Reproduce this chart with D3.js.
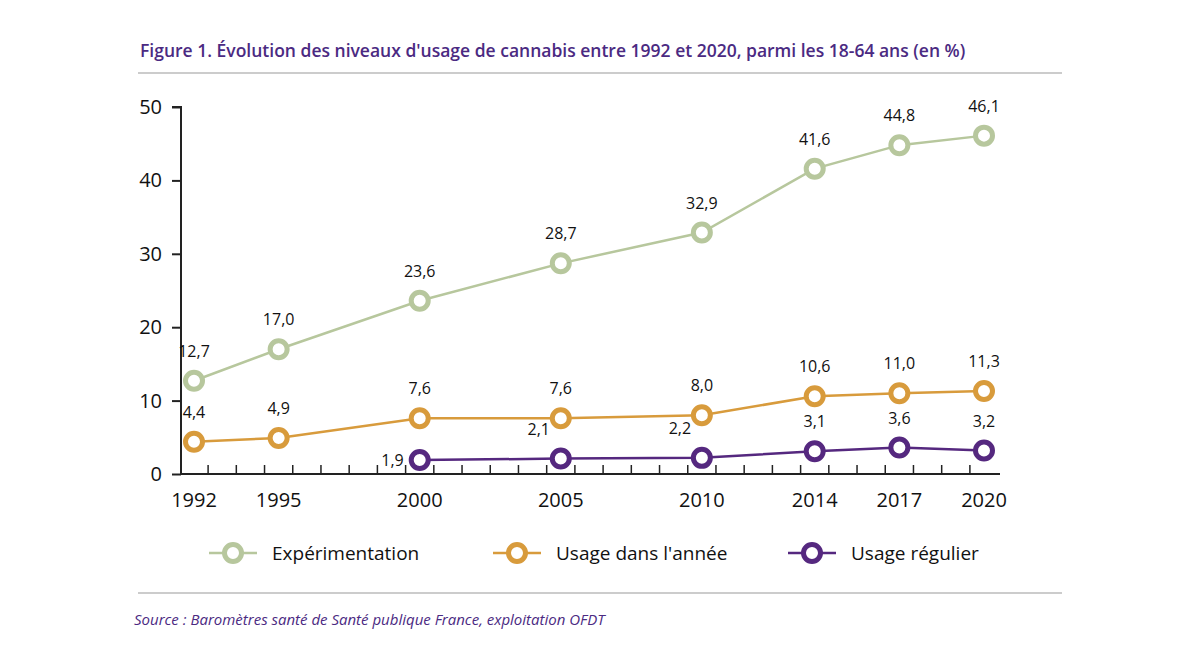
<!DOCTYPE html>
<html><head><meta charset="utf-8">
<script src="https://cdn.jsdelivr.net/npm/d3@7"></script>
<style>body{margin:0;background:#fff;}svg{font-family:"Open Sans",sans-serif;}</style>
</head><body><svg id="c" width="1200" height="650"></svg>
<script>
const years=[1992,1995,2000,2005,2010,2014,2017,2020];
const experimentation=[12.7,17.0,23.6,28.7,32.9,41.6,44.8,46.1];
const usageAnnee=[4.4,4.9,7.6,7.6,8.0,10.6,11.0,11.3];
const usageRegulierYears=[2000,2005,2010,2014,2017,2020];
const usageRegulier=[1.9,2.1,2.2,3.1,3.6,3.2];
const yTicks=[0,10,20,30,40,50];
const seriesNames=["Expérimentation","Usage dans l'année","Usage régulier"];
const colors=["#b7c79d","#d89b3c","#55287f"];

const svg=d3.select("#c");
const x=d3.scaleLinear().domain([1992,2020]).range([194,984]);
const y=d3.scaleLinear().domain([0,50]).range([474,107]);
const fmt=v=>v.toFixed(1).replace(".",",");

svg.append("text").attr("x",140).attr("y",57).attr("fill","#4b2a82").attr("font-size",17.5).attr("font-weight",600)
 .text("Figure 1. Évolution des niveaux d'usage de cannabis entre 1992 et 2020, parmi les 18-64 ans (en %)");
svg.append("line").attr("x1",138).attr("x2",1062).attr("y1",73).attr("y2",73).attr("stroke","#999");
svg.append("line").attr("x1",138).attr("x2",1062).attr("y1",593).attr("y2",593).attr("stroke","#999");
svg.append("text").attr("x",134).attr("y",625).attr("fill","#4b2a82").attr("font-size",15).attr("font-style","italic")
 .text("Source : Baromètres santé de Santé publique France, exploitation OFDT");

const ya=svg.append("g").attr("transform","translate(181,0)").call(d3.axisLeft(y).tickValues(yTicks).tickSize(9).tickPadding(10).tickFormat(d3.format("d")));
ya.selectAll("text").attr("font-size",20).attr("fill","#111").attr("font-family","Open Sans");
ya.select(".domain").attr("d","M-9,107H0V475").attr("stroke","#222").attr("stroke-width",2);
ya.selectAll(".tick line").attr("stroke","#222").attr("stroke-width",2);
svg.append("line").attr("x1",180).attr("x2",1000).attr("y1",474).attr("y2",474).attr("stroke","#222").attr("stroke-width",2);
const minor=d3.range(1992.5,2020,1);
svg.selectAll(".mt").data(minor).enter().append("line").attr("x1",d=>x(d)).attr("x2",d=>x(d)).attr("y1",474).attr("y2",465).attr("stroke","#222").attr("stroke-width",1.5);
svg.selectAll(".xl").data(years).enter().append("text").attr("x",d=>x(d)).attr("y",507).attr("text-anchor","middle").attr("font-size",20).attr("fill","#111").text(d=>d);

const series=[
 {xs:years,vs:experimentation,c:colors[0]},
 {xs:years,vs:usageAnnee,c:colors[1]},
 {xs:usageRegulierYears,vs:usageRegulier,c:colors[2]}];
const line=d3.line().x(d=>x(d[0])).y(d=>y(d[1]));
series.forEach((s,si)=>{
 const pts=s.xs.map((d,i)=>[d,s.vs[i]]);
 svg.append("path").attr("d",line(pts)).attr("fill","none").attr("stroke",s.c).attr("stroke-width",2.5);
 svg.selectAll(null).data(pts).enter().append("circle").attr("cx",d=>x(d[0])).attr("cy",d=>y(d[1])).attr("r",8.5)
  .attr("fill","#fff").attr("stroke",s.c).attr("stroke-width",5);
 svg.selectAll(null).data(pts).enter().append("text")
  .attr("x",(d,i)=>si===2&&i===0?x(d[0])-16:(si===2&&i<3?x(d[0])-22:x(d[0])))
  .attr("y",(d,i)=>si===2&&i===0?y(d[1])+6:y(d[1])-24)
  .attr("text-anchor",(d,i)=>si===2&&i===0?"end":"middle")
  .attr("font-size",16).attr("fill","#111").text(d=>fmt(d[1]));
});
const lx=[209,493,788];
seriesNames.forEach((n,i)=>{
 svg.append("line").attr("x1",lx[i]).attr("x2",lx[i]+48).attr("y1",553).attr("y2",553).attr("stroke",colors[i]).attr("stroke-width",2.5);
 svg.append("circle").attr("cx",lx[i]+24).attr("cy",553).attr("r",8.5).attr("fill","#fff").attr("stroke",colors[i]).attr("stroke-width",5);
 svg.append("text").attr("x",lx[i]+63).attr("y",560).attr("font-size",19).attr("fill","#111").text(n);
});
</script></body></html>
